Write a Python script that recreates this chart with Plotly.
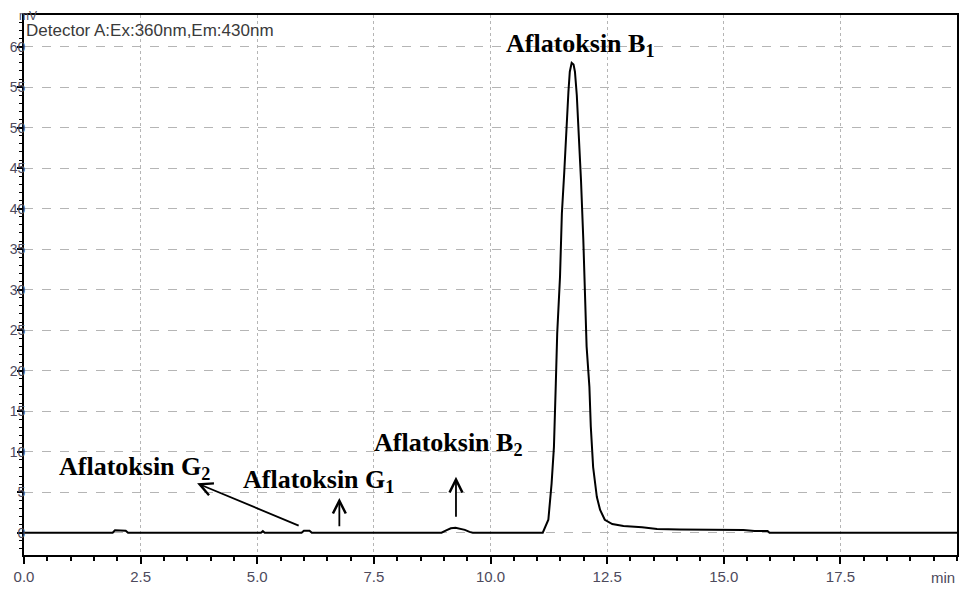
import plotly.graph_objects as go

# Retention time (min) and detector signal (mV)
time_min = [0.0, 1.90, 1.95, 2.05, 2.18, 2.23, 5.08, 5.12, 5.16, 5.20, 5.95, 6.00, 6.12, 6.17,
            8.95, 9.05, 9.15, 9.25, 9.35, 9.45, 9.55, 9.62, 11.12, 11.17, 11.24, 11.31, 11.36,
            11.40, 11.43, 11.49, 11.53, 11.58, 11.62, 11.67, 11.70, 11.74, 11.78, 11.81, 11.85,
            11.90, 11.94, 11.99, 12.03, 12.06, 12.12, 12.15, 12.20, 12.28, 12.35, 12.45, 12.61,
            12.85, 13.25, 13.57, 14.05, 14.86, 15.42, 15.66, 15.94, 15.98, 20.0]
signal_mv = [0.0, 0.0, 0.3, 0.3, 0.25, 0.0, 0.0, 0.2, 0.0, 0.0, 0.0, 0.25, 0.25, 0.0,
             0.0, 0.3, 0.55, 0.6, 0.5, 0.35, 0.1, 0.0, 0.0, 0.6, 1.6, 6.1, 10.6,
             18.4, 24.6, 31.6, 39.4, 44.4, 49.7, 54.4, 56.9, 58.0, 57.8, 56.9, 54.0,
             48.9, 43.5, 36.1, 28.7, 23.0, 18.0, 13.1, 8.1, 4.4, 2.8, 1.6, 1.07,
             0.82, 0.66, 0.45, 0.41, 0.37, 0.33, 0.2, 0.2, 0.0, 0.0]

x_tickvals = [0.0, 2.5, 5.0, 7.5, 10.0, 12.5, 15.0, 17.5]
x_ticktext = ["0.0", "2.5", "5.0", "7.5", "10.0", "12.5", "15.0", "17.5"]
y_tickvals = [0, 5, 10, 15, 20, 25, 30, 35, 40, 45, 50, 55, 60]

# Peak labels: text, text position (t, mV), arrow head (t, mV), arrow tail (t, mV)
peak_names = ["Aflatoksin G<sub>2</sub>", "Aflatoksin G<sub>1</sub>",
              "Aflatoksin B<sub>2</sub>", "Aflatoksin B<sub>1</sub>"]
label_t = [2.36, 6.31, 9.10, 11.92]
label_mv = [8.0, 6.4, 10.9, 60.2]
arrow_head_t = [3.71, 6.76, 9.26, None]
arrow_head_mv = [6.1, 4.3, 6.9, None]
arrow_tail_t = [5.92, 6.76, 9.26, None]
arrow_tail_mv = [0.8, 0.6, 1.8, None]

fig = go.Figure()
fig.add_trace(go.Scatter(x=time_min, y=signal_mv, mode="lines",
                         line=dict(color="black", width=2), hoverinfo="skip",
                         showlegend=False))

tick_font = dict(family="Liberation Sans, Arial, sans-serif", size=15, color="#4d4a5c")
ytick_font = dict(family="Liberation Sans, Arial, sans-serif", size=14, color="#4d4a5c")

fig.update_xaxes(range=[0, 20], tickvals=x_tickvals, ticktext=x_ticktext,
                 ticks="outside", ticklen=7, tickwidth=1.5, tickcolor="black",
                 showline=True, linecolor="black", linewidth=2, mirror=True,
                 showgrid=True, gridcolor="#b5b5b5", gridwidth=1, griddash="dot",
                 zeroline=False, tickfont=tick_font, automargin=False,
                 ticklabelstandoff=0,
                 minor=dict(dtick=0.5, tick0=0, ticks="outside", ticklen=4,
                            tickwidth=1.5, tickcolor="black", showgrid=False))
fig.update_yaxes(range=[-2.75, 63.9], tickvals=y_tickvals,
                 ticks="outside", ticklen=5, tickwidth=1.5, tickcolor="black",
                 showline=True, linecolor="black", linewidth=2, mirror=True,
                 showgrid=True, gridcolor="#b5b5b5", gridwidth=1, griddash="dash",
                 zeroline=False, tickfont=ytick_font, ticklabelstandoff=-11,
                 automargin=False,
                 minor=dict(dtick=1, tick0=0, ticks="outside", ticklen=3,
                            tickwidth=1, tickcolor="black", showgrid=False))

label_font = dict(family="Liberation Serif, Times New Roman, serif", size=26, color="black")
for i, name in enumerate(peak_names):
    fig.add_annotation(x=label_t[i], y=label_mv[i], xref="x", yref="y", text="<b>" + name + "</b>",
                       showarrow=False, font=label_font, xanchor="center", yanchor="middle")
    if arrow_head_t[i] is not None:
        fig.add_annotation(x=arrow_head_t[i], y=arrow_head_mv[i], xref="x", yref="y",
                           ax=arrow_tail_t[i], ay=arrow_tail_mv[i], axref="x", ayref="y",
                           text="", showarrow=True, arrowhead=5, arrowsize=1.4,
                           arrowwidth=1.8, arrowcolor="black")

fig.add_annotation(x=0, y=1.0, xref="x", yref="paper", text="Detector A:Ex:360nm,Em:430nm",
                   showarrow=False, xanchor="left", yanchor="top", xshift=0, yshift=-4,
                   font=dict(family="Liberation Sans, Arial, sans-serif", size=17, color="#3a3a3a"))
fig.add_annotation(x=0, y=1.0, xref="x", yref="paper", text="mV",
                   showarrow=False, xanchor="center", yanchor="top", xshift=4, yshift=7,
                   borderpad=0,
                   font=dict(family="Liberation Sans, Arial, sans-serif", size=12, color="#4d4a5c"))
fig.add_annotation(x=20, y=0, xref="x", yref="paper", text="min",
                   showarrow=False, xanchor="right", yanchor="top", yshift=-12,
                   font=tick_font)

# The page body has an 8 px margin, so the figure is sized and offset to fill the 968x593 window
fig.update_layout(width=952, height=577, margin=dict(l=16, r=3, t=7, b=30),
                  plot_bgcolor="white", paper_bgcolor="white")

fig.write_html("out.html")
